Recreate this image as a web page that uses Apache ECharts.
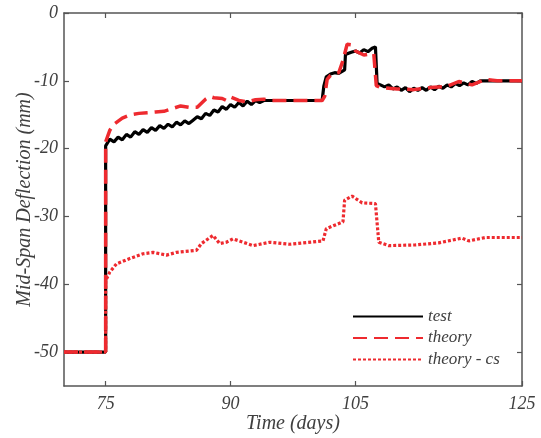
<!DOCTYPE html>
<html>
<head>
<meta charset="utf-8">
<script src="https://cdn.jsdelivr.net/npm/echarts@6/dist/echarts.min.js"></script>
<style>html,body{margin:0;padding:0;background:#fff;}#c{width:541px;height:438px;}</style>
</head>
<body>
<div id="c"></div>
<script>
var xTicks = [75, 90, 105, 125];
var yTicks = [0, -10, -20, -30, -40, -50];
var seriesNames = ['test', 'theory', 'theory - cs'];
var testData = [[70,-50],[75,-50],[75,-19.6],[75.5,-18.6],[76,-19],[76.5,-18.3],[77,-18.7],[77.5,-17.9],[78,-18.3],[78.5,-17.5],[79,-17.9],[79.5,-17.2],[80,-17.6],[80.5,-16.9],[81,-17.3],[81.5,-16.6],[82,-17],[82.5,-16.4],[83,-16.8],[83.5,-16.1],[84,-16.5],[84.5,-15.9],[85,-16.3],[85.5,-15.8],[86,-15.3],[86.5,-15.6],[87,-14.8],[87.5,-15.1],[88,-14.3],[88.5,-14.6],[89,-13.8],[89.5,-14.2],[90,-13.5],[90.5,-13.9],[91,-13.2],[91.5,-13.7],[92,-13],[92.5,-13.5],[93,-12.9],[93.5,-13.2],[94,-12.9],[101,-12.9],[101.2,-10.8],[101.5,-9.4],[102,-9.0],[102.5,-8.8],[103,-8.9],[103.7,-8.4],[103.8,-6.1],[104.5,-5.8],[105,-5.6],[105.5,-5.9],[106,-5.4],[106.5,-5.7],[107,-5.2],[107.4,-5.0],[107.6,-10.4],[108,-10.6],[108.5,-10.9],[109,-10.6],[109.5,-11.2],[110,-10.9],[110.5,-11.4],[111,-11],[111.5,-11.6],[112,-11.1],[112.5,-11.4],[113,-11.0],[113.5,-11.4],[114,-10.9],[114.5,-11.3],[115,-10.8],[115.5,-11.1],[116,-10.6],[116.5,-10.9],[117,-10.4],[117.5,-10.7],[118,-10.3],[118.5,-10.6],[119,-10.1],[119.5,-10.4],[120,-10.0],[121,-10.0],[125,-10.0]];
var theoryData = [[70,-50],[75,-50],[75,-19],[75.5,-17.3],[76,-16.4],[77,-15.5],[78,-15.0],[79,-14.8],[80,-14.7],[81,-14.6],[82,-14.5],[83,-14.1],[84,-13.7],[85,-13.9],[86,-13.9],[87,-12.7],[87.5,-12.3],[88,-12.5],[89,-12.6],[89.5,-12.9],[90,-12.4],[91,-12.9],[92,-13.1],[93,-12.8],[94,-12.7],[95,-12.9],[101,-12.9],[101.3,-12.3],[101.6,-9.8],[102,-9.2],[103,-8.8],[103.5,-7.0],[104,-4.6],[104.6,-4.7],[105,-5.6],[106,-6.2],[106.5,-6.1],[107.2,-6.0],[107.5,-10.7],[108,-11.0],[110,-11.2],[112,-11.3],[114,-11.0],[116,-10.8],[117.4,-10.1],[119,-10.6],[120.6,-9.8],[122,-10.0],[125,-10.0]];
var theoryCsData = [[70,-50],[75,-50],[75,-39.5],[75.5,-38.2],[76.3,-37.0],[77.9,-36.2],[79.5,-35.5],[80.7,-35.3],[82.3,-35.7],[83.5,-35.3],[85.9,-35.0],[86.5,-34.0],[87.9,-32.8],[88.7,-34.0],[89.5,-33.8],[90.3,-33.3],[92.7,-34.3],[94.7,-33.8],[97.1,-34.1],[101.1,-33.6],[101.5,-31.8],[103.5,-30.8],[103.7,-27.6],[104.6,-27.0],[105.8,-28.0],[107.4,-28.1],[107.8,-33.8],[109.0,-34.3],[112.2,-34.2],[115.0,-33.9],[117.8,-33.2],[118.6,-33.6],[120.6,-33.1],[125,-33.1]];

var font = 'Liberation Serif';
var axisColor = '#555';
var textColor = '#404040';
var red = '#ee2a2f';
var chart = echarts.init(document.getElementById('c'));
function frameAxis(pos, isX, show) {
  return {
    type: 'value', position: pos,
    min: isX ? 70 : -55, max: isX ? 125 : 0,
    nameMoveOverlap: false,
    axisLine: {show: true, onZero: false, lineStyle: {color: axisColor, width: 1.5}},
    axisTick: {show: true, inside: true, length: 5, lineStyle: {color: axisColor, width: 1.2}, customValues: isX ? xTicks : yTicks},
    axisLabel: {show: show, customValues: isX ? xTicks : yTicks, fontFamily: font, fontStyle: 'italic', fontSize: 18, color: textColor, margin: isX ? 9 : 6},
    splitLine: {show: false}
  };
}
var xa = frameAxis('bottom', true, true);
xa.name = 'Time (days)'; xa.nameLocation = 'middle'; xa.nameGap = 28;
xa.nameTextStyle = {fontFamily: font, fontStyle: 'italic', fontSize: 20, color: textColor};
var xb = frameAxis('top', true, false);
var ya = frameAxis('left', false, true);
ya.name = 'Mid-Span Deflection (mm)'; ya.nameLocation = 'middle'; ya.nameGap = 29;
ya.nameTextStyle = {fontFamily: font, fontStyle: 'italic', fontSize: 20, color: textColor};
var yb = frameAxis('right', false, false);

chart.setOption({
  animation: false,
  grid: {left: 64, right: 19, top: 13, bottom: 52, containLabel: false, outerBoundsMode: 'none'},
  xAxis: [xa, xb],
  yAxis: [ya, yb],
  legend: {
    left: 352, top: 308, orient: 'vertical', padding: 0, itemWidth: 70, itemHeight: 12, itemGap: 4.5,
    itemStyle: {opacity: 0},
    textStyle: {fontFamily: font, fontStyle: 'italic', fontSize: 17, color: textColor},
    data: seriesNames
  },
  series: [
    {name: seriesNames[0], type: 'line', data: testData, symbol: 'none', lineStyle: {color: '#000', width: 3.2}, itemStyle: {color: '#000'}},
    {name: seriesNames[1], type: 'line', data: theoryData, symbol: 'none', lineStyle: {color: red, width: 3.5, type: [14, 7]}, itemStyle: {color: red}},
    {name: seriesNames[2], type: 'line', data: theoryCsData, symbol: 'none', lineStyle: {color: red, width: 3.2, type: [3, 2]}, itemStyle: {color: red}}
  ]
});
</script>
</body>
</html>
